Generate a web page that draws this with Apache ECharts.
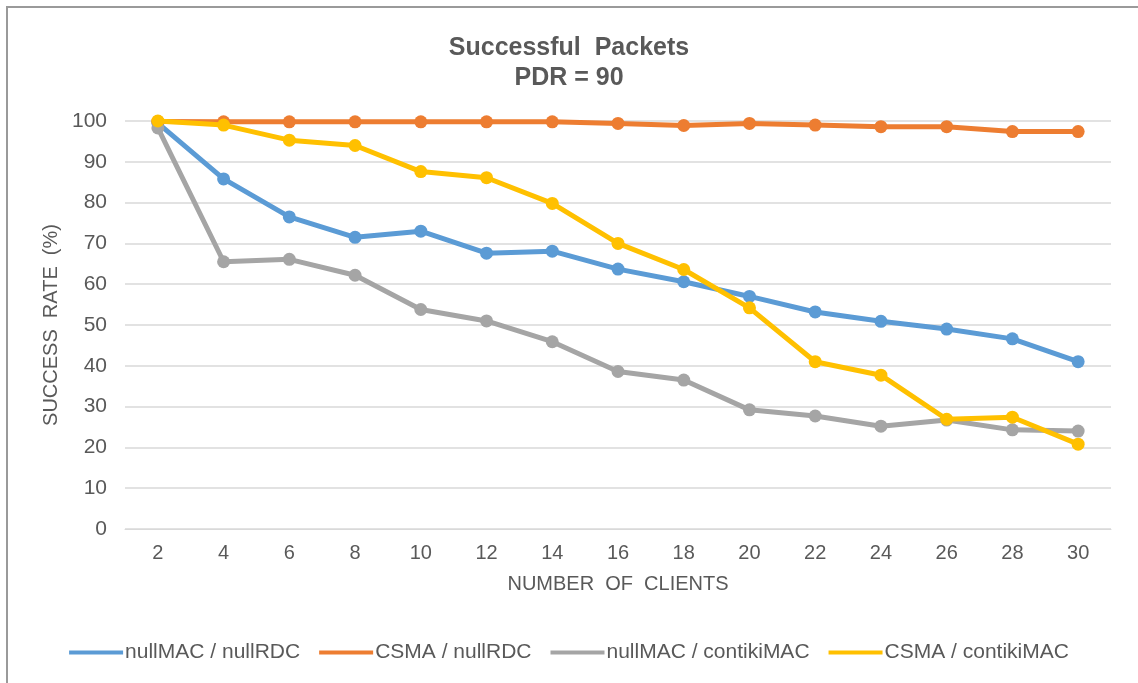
<!DOCTYPE html>
<html>
<head>
<meta charset="utf-8">
<script src="https://cdn.jsdelivr.net/npm/echarts@6/dist/echarts.min.js"></script>
<style>
  html, body { margin: 0; padding: 0; background: #fff; }
  #frame { position: absolute; left: 6px; top: 6px; width: 1200px; height: 760px;
           border-left: 2px solid #9a9a9a; border-top: 2px solid #9a9a9a; box-sizing: border-box; }
  #chart { position: absolute; left: 0; top: 0; width: 1138px; height: 683px; }
</style>
</head>
<body>
<div id="frame"></div>
<div id="chart"></div>
<script>
// Number of clients on the x axis
const clients = ['2', '4', '6', '8', '10', '12', '14', '16', '18', '20', '22', '24', '26', '28', '30'];

// Success rate (%) per MAC / RDC combination
const nullMacNullRdc = [99.5, 85.8, 76.5, 71.5, 73.0, 67.6, 68.1, 63.7, 60.6, 57.0, 53.2, 50.9, 49.0, 46.6, 41.0];
const csmaNullRdc = [99.9, 99.8, 99.8, 99.8, 99.8, 99.8, 99.8, 99.4, 98.9, 99.4, 99.0, 98.6, 98.6, 97.4, 97.4];
const nullMacContikiMac = [98.3, 65.5, 66.1, 62.2, 53.8, 51.0, 45.9, 38.6, 36.5, 29.2, 27.7, 25.2, 26.7, 24.3, 24.0];
const csmaContikiMac = [100, 99.0, 95.3, 94.0, 87.6, 86.1, 79.8, 70.0, 63.6, 54.2, 41.0, 37.7, 26.9, 27.4, 20.8];

const seriesNames = ['nullMAC / nullRDC', 'CSMA / nullRDC', 'nullMAC / contikiMAC', 'CSMA / contikiMAC'];
const seriesColors = ['#5B9BD5', '#ED7D31', '#A5A5A5', '#FFC000'];
const seriesData = [nullMacNullRdc, csmaNullRdc, nullMacContikiMac, csmaContikiMac];

const textColor = '#595959';
const font = '"Liberation Sans", Arial, sans-serif';

const chart = echarts.init(document.getElementById('chart'), null, { renderer: 'canvas' });

chart.setOption({
  animation: false,
  backgroundColor: 'transparent',
  title: {
    text: 'Successful  Packets\nPDR = 90',
    left: 'center',
    top: 28,
    textStyle: { fontFamily: font, fontSize: 25, fontWeight: 'bold', color: textColor, lineHeight: 30 }
  },
  legend: {
    bottom: 15,
    left: 'center',
    itemWidth: 54,
    itemHeight: 14,
    itemGap: 19,
    textStyle: { fontFamily: font, fontSize: 21, color: textColor, padding: [0, 0, 0, -3] },
    data: seriesNames.map(n => ({ name: n, icon: 'path://M0,5.5 L54,5.5 L54,9.5 L0,9.5 Z' }))
  },
  grid: { left: 125, right: 27, top: 121, bottom: 154 },
  xAxis: {
    type: 'category',
    data: clients,
    boundaryGap: true,
    name: 'NUMBER  OF  CLIENTS',
    nameLocation: 'middle',
    nameGap: 45,
    nameTextStyle: { fontFamily: font, fontSize: 20, color: textColor },
    axisLine: { show: true, lineStyle: { color: '#D9D9D9', width: 1 } },
    axisTick: { show: false },
    axisLabel: { fontFamily: font, fontSize: 20, color: textColor, margin: 14 }
  },
  yAxis: {
    type: 'value',
    min: 0,
    max: 100,
    interval: 10,
    name: 'SUCCESS  RATE  (%)',
    nameLocation: 'middle',
    nameGap: 63,
    nameRotate: 90,
    nameTextStyle: { fontFamily: font, fontSize: 20, color: textColor },
    axisLine: { show: false },
    axisTick: { show: false },
    axisLabel: { fontFamily: font, fontSize: 21, color: textColor, margin: 18 },
    splitLine: { lineStyle: { color: '#D9D9D9', width: 1.5 } }
  },
  series: seriesData.map((d, i) => ({
    name: seriesNames[i],
    type: 'line',
    data: d,
    color: seriesColors[i],
    symbol: 'circle',
    symbolSize: 13,
    lineStyle: { width: 5, color: seriesColors[i] },
    itemStyle: { color: seriesColors[i] },
    z: 2 + i
  }))
});
</script>
</body>
</html>
